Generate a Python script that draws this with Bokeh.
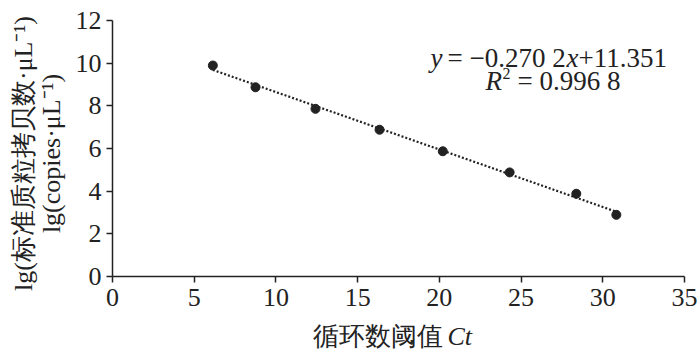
import numpy as np
from bokeh.plotting import figure
from bokeh.layouts import row, column
from bokeh.models import Range1d, FixedTicker, Label
from bokeh.embed import file_html
from bokeh.resources import INLINE

# ---- data ----
ct_values = [6.14, 8.75, 12.42, 16.34, 20.21, 24.30, 28.38, 30.83]
lg_copies = [9.89, 8.87, 7.86, 6.88, 5.87, 4.88, 3.88, 2.89]
x_ticks = [0, 5, 10, 15, 20, 25, 30, 35]
y_ticks = [0, 2, 4, 6, 8, 10, 12]
eq_text = ["y", "= \u22120.270 2", "x", "+11.351"]
r2_text = ["R", "2", "= 0.996 8"]
x_label_cn = "循环数阈值"
x_label_it = "Ct"
y_label_1 = "lg(标准质粒拷贝数·μL\u207b\u00b9)"
y_label_2 = "lg(copies·μL\u207b\u00b9)"

FONT = "Liberation Serif"
INK = "#222222"

# ---- geometry (page pixels, canvas starts at page 0,0) ----
TOTAL_W, TOTAL_H = 700, 351
LEFT_W = 66                  # left title strip: x 0..66
MAIN_W = TOTAL_W - LEFT_W    # main figure: x 66..700
MAIN_H = 319                 # main figure: y 0..319
BOT_H = TOTAL_H - MAIN_H     # bottom title strip: y 319..351
BL, BR, BT, BB = 46, 16, 20, 43
FX0, FX1 = LEFT_W + BL, TOTAL_W - BR
FY0, FY1 = BT, MAIN_H - BB


def X(px):
    return (px - FX0) / (FX1 - FX0) * 35


def Y(py):
    return (FY1 - py) / (FY1 - FY0) * 12


p = figure(width=MAIN_W, height=MAIN_H, output_backend="svg", toolbar_location=None,
           x_range=Range1d(0, 35), y_range=Range1d(0, 12),
           min_border_left=BL, min_border_right=BR, min_border_top=BT, min_border_bottom=BB)
p.frame_align = False
p.outline_line_color = None
p.xgrid.grid_line_color = None
p.ygrid.grid_line_color = None

for ax, ticks in ((p.xaxis, x_ticks), (p.yaxis, y_ticks)):
    ax.ticker = FixedTicker(ticks=ticks)
    ax.axis_line_color = INK
    ax.axis_line_width = 1.5
    ax.major_tick_line_color = INK
    ax.major_tick_line_width = 1.5
    ax.major_tick_out = 6
    ax.major_tick_in = 0
    ax.minor_tick_line_color = None
    ax.major_label_text_font = FONT
    ax.major_label_text_font_size = "26px"
    ax.major_label_text_color = INK
p.xaxis.major_label_standoff = 6
p.yaxis.major_label_standoff = 5

# trend line (least squares on the data)
k, b = np.polyfit(ct_values, lg_copies, 1)
xs = [min(ct_values), max(ct_values)]
p.line(xs, [k * v + b for v in xs], line_color=INK, line_width=2.2, line_dash="2 2")
p.scatter(ct_values, lg_copies, size=9, fill_color=INK, line_color=INK)


def lab(fig, x, y, text, size="27px", style="normal", angle=0, align="left",
        base="alphabetic"):
    fig.add_layout(Label(x=x, y=y, text=text, text_font=FONT,
                         text_font_size=size, text_font_style=style, text_color=INK,
                         angle=angle, text_align=align, text_baseline=base))


# equation (page coordinates converted to data)
L1, L2 = 57, 80
lab(p, X(430), Y(L1), eq_text[0], style="italic")
lab(p, X(447), Y(L1), eq_text[1])
lab(p, X(566), Y(L1), eq_text[2], style="italic")
lab(p, X(578), Y(L1), eq_text[3])
lab(p, X(485), Y(L2), r2_text[0], style="italic")
lab(p, X(502), Y(L2 - 7), r2_text[1], size="16px")
lab(p, X(517), Y(L2), r2_text[2])


def strip(w, h, x0):
    # data coordinates of a strip == page pixels (x), page pixels from bottom (y)
    f = figure(width=w, height=h, output_backend="svg", toolbar_location=None,
               x_range=Range1d(x0, x0 + w), y_range=Range1d(0, h),
               x_axis_type=None, y_axis_type=None, min_border=0,
               min_border_left=0, min_border_right=0, min_border_top=0, min_border_bottom=0)
    f.frame_align = False
    f.outline_line_color = None
    f.xgrid.grid_line_color = None
    f.ygrid.grid_line_color = None
    return f


# left strip: rotated y-axis title (two lines)
left = strip(LEFT_W, TOTAL_H, 0)
lab(left, 23, TOTAL_H - 153, y_label_1, size="26px", angle=np.pi / 2, align="center",
    base="middle")
lab(left, 51, TOTAL_H - 153, y_label_2, size="26px", angle=np.pi / 2, align="center",
    base="middle")

# bottom strip: x-axis title
bottom = strip(MAIN_W, BOT_H, LEFT_W)
lab(bottom, 312, TOTAL_H - 336, x_label_cn, size="26px", base="middle")
lab(bottom, 447, TOTAL_H - 336, x_label_it, size="26px", style="italic", base="middle")

layout = row(left, column(p, bottom, spacing=0), spacing=0)
open("out.html", "w").write(file_html(layout, INLINE))
